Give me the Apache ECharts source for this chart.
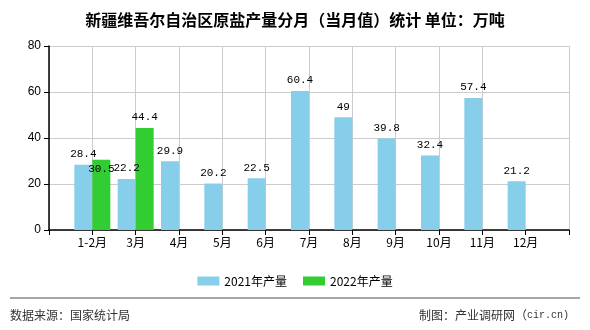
<!DOCTYPE html>
<html><head><meta charset="utf-8">
<script src="https://cdn.jsdelivr.net/npm/echarts@6/dist/echarts.min.js"></script>
<style>html,body{margin:0;padding:0;background:#fff}#c{width:590px;height:330px}</style>
</head><body><div id="c"></div>
<script>
const categories = ['1-2月','3月','4月','5月','6月','7月','8月','9月','10月','11月','12月'];
const prod2021 = [28.4, 22.2, 29.9, 20.2, 22.5, 60.4, 49, 39.8, 32.4, 57.4, 21.2];
const prod2022 = [30.5, 44.4, null, null, null, null, null, null, null, null, null];
const seriesNames = ['2021年产量', '2022年产量'];
const yTicks = [0, 20, 40, 60, 80];
const titleText = '新疆维吾尔自治区原盐产量分月（当月值）统计 单位：万吨';
const sourceText = '数据来源：国家统计局';
const makerCn = '制图：产业调研网（';
const makerEn = 'cir.cn)';

const cats = [''].concat(categories, ['']);
const pad = arr => [null].concat(arr, [null]);
const d2021 = pad(prod2021);
const d2022 = pad(prod2022).map((v, i) => (i === 1 && v != null) ? {value: v, label: {offset: [0, 20]}} : v);

const labelStyle = {show: true, position: 'top', distance: 5, color: '#000', fontSize: 11, fontFamily: 'Liberation Mono, monospace'};

const chart = echarts.init(document.getElementById('c'), null, {renderer: 'canvas'});
chart.setOption({
  animation: false,
  title: {text: titleText, left: 'center', top: 7, textStyle: {fontSize: 16, fontWeight: 'bold', color: '#000', fontFamily: 'Noto Sans CJK SC'}},
  legend: {data: seriesNames, left: 'center', top: 270, itemWidth: 22, itemHeight: 9, itemGap: 16,
    textStyle: {fontSize: 12, color: '#000', fontFamily: 'Noto Sans CJK SC'}, icon: 'rect'},
  grid: {left: 49, right: 21, top: 46, bottom: 100},
  xAxis: {type: 'category', data: cats, boundaryGap: false,
    axisLine: {lineStyle: {color: '#000', width: 1.5}},
    axisTick: {show: true, interval: 0, length: 5, lineStyle: {color: '#000'}},
    axisLabel: {interval: 0, color: '#000', fontSize: 12, fontFamily: 'Noto Sans CJK SC', margin: 6},
    splitLine: {show: true, interval: (i) => i !== 11, lineStyle: {color: '#ccc', width: 1}}},
  yAxis: {type: 'value', min: yTicks[0], max: yTicks[yTicks.length - 1], interval: yTicks[1] - yTicks[0],
    axisLine: {show: true, lineStyle: {color: '#000', width: 1.5}},
    axisTick: {show: true, length: 5, lineStyle: {color: '#000'}},
    axisLabel: {color: '#000', fontSize: 12, fontFamily: 'Liberation Sans, sans-serif', margin: 8},
    splitLine: {show: true, lineStyle: {color: '#ccc', width: 1}}},
  series: [
    {name: seriesNames[0], type: 'bar', data: d2021, barWidth: 18, barGap: '0%', itemStyle: {color: '#87CEEB'}, label: labelStyle},
    {name: seriesNames[1], type: 'bar', data: d2022, barWidth: 18, barGap: '0%', itemStyle: {color: '#32CD32'}, label: labelStyle}
  ],
  graphic: [
    {type: 'line', shape: {x1: 10, y1: 298, x2: 580, y2: 298}, style: {stroke: '#888', lineWidth: 1.5}},
    {type: 'text', left: 10, top: 309, style: {text: sourceText, fontSize: 12, fill: '#333', fontFamily: 'Noto Sans CJK SC'}},
    {type: 'text', right: 21, top: 309, style: {
      text: '{a|' + makerCn + '}{b|' + makerEn + '}',
      rich: {
        a: {fontSize: 12, fill: '#333', fontFamily: 'Noto Sans CJK SC'},
        b: {fontSize: 10, fill: '#333', fontFamily: 'Liberation Mono, monospace'}
      }}}
  ]
});
</script></body></html>
